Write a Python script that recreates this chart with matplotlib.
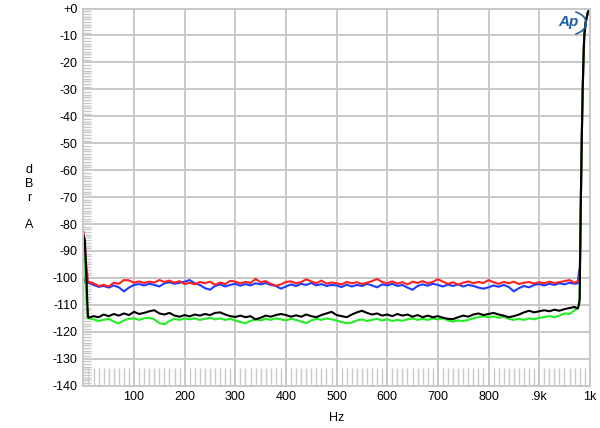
import matplotlib
matplotlib.use("Agg")
import matplotlib.pyplot as plt
import numpy as np
from matplotlib.patches import Arc
from matplotlib.ticker import MultipleLocator, FixedLocator

plt.rcParams["font.family"] = ["Liberation Sans", "DejaVu Sans"]

# noise-floor sample grid (Hz)
floor_hz = np.arange(10, 980, 10)

# level at each floor_hz point (dBr A)
red_db = [
    -101.5, -102.0, -103.0, -102.6, -103.2, -101.8, -102.2, -100.8, -100.9, -101.8,
    -101.3, -101.9, -101.4, -101.7, -100.8, -101.5, -101.0, -101.8, -101.2, -102.3,
    -101.8, -102.4, -101.5, -102.0, -101.4, -102.6, -101.7, -102.3, -101.1, -101.4,
    -102.0, -101.5, -101.9, -100.4, -101.6, -101.2, -102.2, -102.9, -102.4, -101.5,
    -101.3, -102.0, -101.6, -100.5, -101.3, -102.0, -101.0, -102.1, -101.7,
    -102.0, -102.4, -101.5, -102.0, -101.6, -102.3, -101.8, -101.2, -100.4, -101.5,
    -102.0, -101.3, -102.1, -101.6, -102.4, -101.4, -101.9, -101.2, -102.0, -101.5,
    -100.5, -101.4, -102.2, -101.6, -102.5, -101.8, -101.3, -102.0, -101.5, -101.9,
    -100.8, -101.6, -102.2, -101.5, -102.0, -101.4, -102.3, -101.8, -101.5, -102.1,
    -101.6, -102.0, -101.4, -101.9, -101.6, -101.2, -100.8, -101.8,
]
blue_db = [
    -101.8, -102.6, -103.3, -103.0, -103.6, -102.8, -103.5, -105.0, -103.6, -102.6,
    -102.3, -102.8, -102.2, -102.6, -103.2, -102.0, -101.6, -102.2, -101.8, -101.4,
    -100.8, -102.0, -102.6, -103.8, -104.4, -103.0, -102.4, -103.2, -102.6, -102.2,
    -102.9, -102.3, -102.8, -102.0, -102.4, -101.9, -102.6, -103.0, -104.0, -103.2,
    -102.4, -103.0, -102.2, -102.6, -101.9, -102.8, -102.3, -103.0, -102.6,
    -102.8, -103.4, -102.5, -103.2, -102.6, -103.0, -102.2, -102.8, -103.5, -102.4,
    -102.8, -102.2, -103.0, -102.6, -103.6, -104.4, -103.0, -102.4, -102.9, -102.2,
    -102.6, -103.2, -102.5, -103.0, -102.4, -103.2, -102.6, -103.0, -103.6, -104.0,
    -103.5, -102.8, -103.3, -102.6, -103.4, -105.0, -103.8, -103.0, -103.5, -102.6,
    -102.3, -102.8, -102.2, -102.6, -102.0, -102.4, -101.8, -102.2,
]
black_db = [
    -114.8, -114.2, -114.6, -113.6, -114.2, -113.4, -114.0, -113.2, -113.8, -112.6,
    -113.4, -113.0, -112.4, -112.0, -113.2, -113.6, -113.0, -114.0, -114.4, -113.8,
    -114.3, -113.6, -114.0, -113.4, -113.8, -113.0, -112.8, -113.6, -114.2, -114.5,
    -114.0, -114.6, -114.2, -115.4, -114.8, -114.0, -114.4, -113.8, -113.4, -113.8,
    -114.4, -113.9, -114.4, -113.6, -114.2, -114.6, -113.8, -113.2, -112.6,
    -113.8, -114.2, -114.6, -113.6, -112.8, -112.2, -113.0, -113.6, -113.2, -114.0,
    -113.6, -114.2, -113.4, -114.0, -113.6, -114.4, -113.8, -114.6, -114.0, -114.6,
    -114.2, -114.8, -115.2, -115.3, -114.6, -114.0, -114.4, -113.6, -113.2, -113.8,
    -113.4, -113.0, -113.6, -114.0, -114.6, -114.2, -113.6, -112.8, -112.2, -112.8,
    -112.4, -112.0, -112.4, -111.8, -112.2, -111.6, -111.2, -110.8,
]
green_db = [
    -115.0, -115.4, -116.0, -115.6, -115.2, -116.2, -116.9, -115.8, -115.2, -115.0,
    -115.6, -115.0, -114.8, -115.4, -116.8, -117.2, -116.0, -115.2, -115.6, -115.0,
    -115.4, -115.0, -115.6, -115.2, -114.8, -115.4, -115.0, -115.6, -115.2, -115.8,
    -116.4, -116.8, -116.0, -115.4, -115.8, -115.2, -115.6, -115.0, -115.4, -115.8,
    -115.2, -115.6, -116.2, -116.8, -115.8, -115.2, -115.6, -115.0, -115.4,
    -115.8, -116.4, -116.8, -116.6, -115.8, -115.4, -116.0, -115.6, -115.2, -115.8,
    -115.4, -116.0, -115.6, -115.9, -115.4, -115.0, -115.6, -115.2, -115.6, -115.0,
    -115.4, -115.0, -115.8, -116.2, -115.8, -116.0, -115.6, -115.0, -114.6, -114.2,
    -114.6, -114.3, -114.8, -114.4, -115.2, -115.6, -115.2, -115.6, -115.0, -115.4,
    -114.8, -114.6, -114.2, -114.6, -114.0, -113.2, -113.4, -112.0,
]

# low-frequency start of each trace (Hz, dB)
red_start_hz, red_start_db = [0.5, 3, 6, 9], [-83.0, -89.5, -96.0, -101.2]
blue_start_hz, blue_start_db = [0.5, 5], [-100.2, -101.9]
black_start_hz, black_start_db = [0.5, 3, 6, 8, 9], [-84.7, -86.0, -100.0, -110.0, -114.0]
green_start_hz, green_start_db = [0.5, 3, 6, 8], [-92.0, -94.0, -108.0, -114.8]

# high-frequency end of each trace before the shared rise
red_end_hz, red_end_db = [976, 980], [-101.2, -100.6]
blue_end_hz, blue_end_db = [976, 979, 980], [-102.0, -97.2, -100.5]
black_end_hz, black_end_db = [976, 978, 980], [-111.4, -110.4, -108.0]
green_end_hz, green_end_db = [976, 979, 980], [-111.2, -109.4, -108.0]

# common steep rise towards the 1 kHz tone
rise_hz = [981, 983, 985, 987, 989, 992, 996, 1000]
rise_db = [-90.0, -62.0, -39.0, -22.0, -10.0, -5.0, -1.5, 0.0]

series = [
    ("#1f3cff", blue_start_hz, blue_start_db, blue_db, blue_end_hz, blue_end_db),
    ("#ff2020", red_start_hz, red_start_db, red_db, red_end_hz, red_end_db),
    ("#22ee22", green_start_hz, green_start_db, green_db, green_end_hz, green_end_db),
    ("#000000", black_start_hz, black_start_db, black_db, black_end_hz, black_end_db),
]

GRID = "#c8c8c8"

fig = plt.figure(figsize=(6.0, 4.28), dpi=100)
ax = fig.add_axes([0.139, 0.099, 0.844, 0.881])

for color, s_hz, s_db, f_db, e_hz, e_db in series:
    hz = np.concatenate([s_hz, floor_hz, e_hz, rise_hz])
    db = np.concatenate([s_db, f_db, e_db, rise_db])
    ax.plot(hz, db, color=color, lw=1.5, solid_joinstyle="round")

ax.set_xlim(0, 1000)
ax.set_ylim(-140, 0)

ax.xaxis.set_major_locator(FixedLocator(np.arange(100, 1001, 100)))
ax.set_xticklabels(["100", "200", "300", "400", "500", "600", "700", "800", ".9k", "1k"])
ax.xaxis.set_minor_locator(MultipleLocator(10))
ax.yaxis.set_major_locator(MultipleLocator(10))
ax.yaxis.set_minor_locator(MultipleLocator(1))
ax.set_yticklabels(["+0" if v == 0 else f"{int(v)}" for v in ax.get_yticks()])
ax.set_ylim(-140, 0)

ax.tick_params(which="major", length=0, labelsize=9, pad=4)
ax.tick_params(axis="x", which="minor", direction="in", length=13, width=1, color=GRID)
ax.tick_params(axis="y", which="minor", direction="in", length=6, width=1, color=GRID)
ax.tick_params(which="minor", top=False, right=False)

ax.grid(True, which="major", color=GRID, lw=1.4)
ax.set_axisbelow(True)
for sp in ax.spines.values():
    sp.set_color(GRID)
    sp.set_linewidth(1.4)

ax.set_xlabel("Hz", fontsize=9, labelpad=6)
for txt, ypix in [("d", 170), ("B", 184), ("r", 198), ("A", 225)]:
    fig.text(29 / 600, 1 - ypix / 428, txt, fontsize=9, ha="center", va="center")

# Audio Precision style logo
fig.text(568 / 600, 1 - 22 / 428, "Ap", fontsize=11, color="#1f5fa8",
         fontstyle="italic", fontweight="bold", ha="center", va="center")
logo_ax = fig.add_axes([553 / 600, 1 - 36 / 428, 34 / 600, 26 / 428])
logo_ax.set_xlim(0, 1)
logo_ax.set_ylim(0, 1)
logo_ax.axis("off")
logo_ax.add_patch(Arc((0.5, 0.5), 0.95, 0.9, theta1=-70, theta2=70, color="#1f5fa8", lw=1.2))

fig.savefig("out.png", dpi=100)
